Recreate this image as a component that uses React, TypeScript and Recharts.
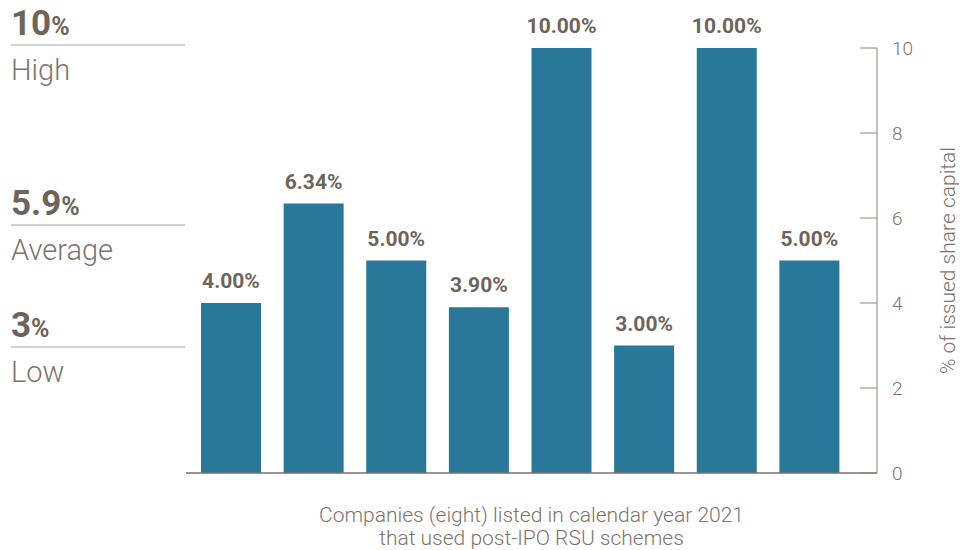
import React from "react";
import { BarChart, Bar, XAxis, YAxis, LabelList } from "recharts";

const companies = ["A", "B", "C", "D", "E", "F", "G", "H"];
const sharePct = [4.0, 6.34, 5.0, 3.9, 10.0, 3.0, 10.0, 5.0];
const yTicks = [0, 2, 4, 6, 8, 10];
const xTitle = ["Companies (eight) listed in calendar year 2021", "that used post-IPO RSU schemes"];
const yTitle = "% of issued share capital";

const summaryValues = ["10", "5.9", "3"];
const summaryNames = ["High", "Average", "Low"];

const data = companies.map((c, i) => ({ name: c, value: sharePct[i] }));

const FONT = "Roboto, 'Liberation Sans', Arial, sans-serif";
const BAR = "#29789a";
const BROWN = "#6e645b";
const GREY = "#7d746e";
const RULE = "#a9a19b";

// where the left-hand summary blocks sit (top of the big number)
const summaryTops = [10, 190, 312];

const XTitle = (props: any) => {
  const { viewBox } = props;
  const cx = viewBox.x + viewBox.width / 2;
  return (
    <text x={cx} y={viewBox.y + 49} textAnchor="middle" fill={GREY} fontSize={21} fontWeight={300} fontFamily={FONT}>
      <tspan x={cx}>{xTitle[0]}</tspan>
      <tspan x={cx} dy={23}>{xTitle[1]}</tspan>
    </text>
  );
};

const YTitle = (props: any) => {
  const { viewBox } = props;
  const cx = viewBox.x + 71;
  const cy = viewBox.y + viewBox.height / 2;
  return (
    <text
      x={cx}
      y={cy}
      textAnchor="middle"
      dominantBaseline="central"
      transform={`rotate(-90, ${cx}, ${cy})`}
      fill={GREY}
      fontSize={21}
      fontWeight={300}
      fontFamily={FONT}
    >
      {yTitle}
    </text>
  );
};

const Summary = () => (
  <svg width={200} height={400} style={{ position: "absolute", left: 0, top: 0 }}>
    {summaryValues.map((v, i) => {
      const top = summaryTops[i];
      return (
        <g key={v}>
          <text x={11} y={top + 25} fill={BROWN} fontFamily={FONT} fontWeight={700} fontSize={35}>
            {v}
            <tspan fontSize={25}>%</tspan>
          </text>
          <line x1={11} x2={185} y1={top + 35} y2={top + 35} stroke={RULE} strokeWidth={1.2} />
          <text x={11} y={top + 70} fill={GREY} fontFamily={FONT} fontWeight={300} fontSize={29}>
            {summaryNames[i]}
          </text>
        </g>
      );
    })}
  </svg>
);

export default function App() {
  return (
    <div style={{ position: "absolute", left: 0, top: 0, width: 974, height: 550, background: "#fff" }}>
      <BarChart width={974} height={550} data={data} margin={{ top: 48, right: 0, bottom: 0, left: 186 }}>
        <XAxis
          dataKey="name"
          tick={false}
          tickLine={false}
          height={77}
          padding={{ left: 4, right: 26 }}
          axisLine={{ stroke: "#77706a", strokeWidth: 1.5 }}
          label={<XTitle />}
        />
        <YAxis
          orientation="right"
          domain={[0, 10]}
          ticks={yTicks}
          width={97}
          tickSize={-17}
          tickMargin={32}
          axisLine={{ stroke: "#8d857f" }}
          tickLine={{ stroke: "#8d857f" }}
          tick={{ fill: GREY, fontSize: 19, fontWeight: 300, fontFamily: FONT }}
          label={<YTitle />}
        />
        <Bar dataKey="value" fill={BAR} barSize={60} isAnimationActive={false}>
          <LabelList
            dataKey="value"
            position="top"
            offset={15}
            formatter={(v: any) => `${Number(v).toFixed(2)}%`}
            fill={BROWN}
            fontSize={21}
            fontWeight={700}
            fontFamily={FONT}
          />
        </Bar>
      </BarChart>
      <Summary />
    </div>
  );
}
